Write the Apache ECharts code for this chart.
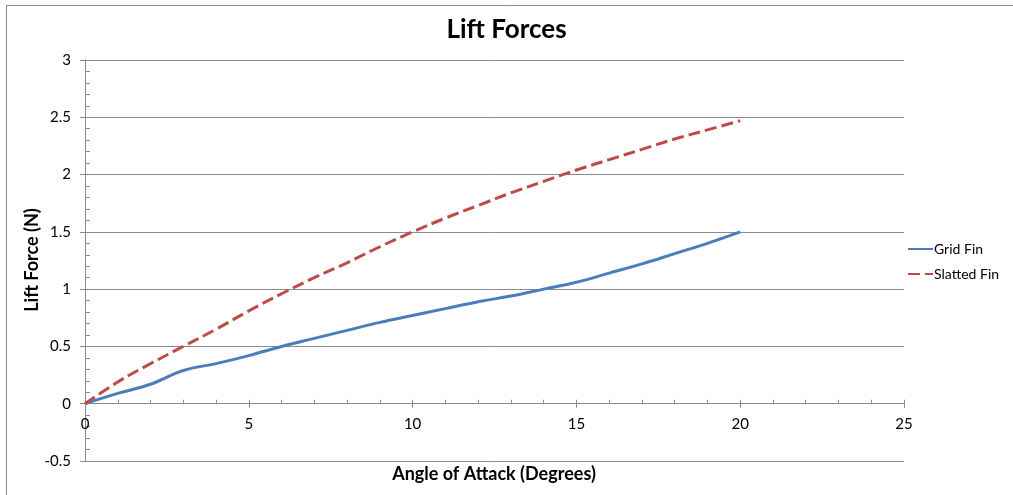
<!DOCTYPE html>
<html>
<head>
<meta charset="utf-8">
<script src="https://cdn.jsdelivr.net/npm/echarts@6/dist/echarts.min.js"></script>
<style>
html,body{margin:0;padding:0;background:#fff;}
#chart{width:1013px;height:495px;}
</style>
</head>
<body>
<div id="chart"></div>
<script>
const angles = [0,1,2,3,4,5,6,7,8,9,10,11,12,13,14,15,16,17,18,19,20];
const gridFin = [0,0.09,0.17,0.29,0.35,0.42,0.50,0.57,0.64,0.71,0.77,0.83,0.89,0.94,1.00,1.06,1.14,1.22,1.31,1.40,1.50];
const slattedFin = [0,0.19,0.35,0.50,0.65,0.81,0.96,1.10,1.23,1.37,1.50,1.62,1.73,1.84,1.94,2.04,2.13,2.22,2.31,2.39,2.47];
const seriesNames = ['Grid Fin','Slatted Fin'];
const titleText = 'Lift Forces';
const xName = 'Angle of Attack (Degrees)';
const yName = 'Lift Force (N)';
const yMin = -0.5, yMax = 3;

const FONT = 'Lato, "Open Sans", sans-serif';
const axisColor = '#8a8a8a';
const chart = echarts.init(document.getElementById('chart'), null, {renderer:'canvas'});

function pairs(xs, ys){ return xs.map((x,i)=>[x, ys[i]]); }
const gridBox = {left:85,right:109,top:60,bottom:34,containLabel:false};
const plotH = 495 - gridBox.top - gridBox.bottom;
// distance from bottom of plot up to the zero line
const zeroOffset = -plotH * (0 - yMin) / (yMax - yMin);

chart.setOption({
  animation:false,
  backgroundColor:'#fff',
  title:{text:titleText,left:'center',top:12,textStyle:{fontFamily:FONT,fontSize:26,fontWeight:'bold',color:'#000'}},
  grid:[Object.assign({},gridBox),Object.assign({},gridBox)],
  legend:{
    orient:'vertical',left:902,top:237,itemWidth:25,itemHeight:10,itemGap:11,
    itemStyle:{opacity:0},
    textStyle:{fontFamily:FONT,fontSize:14,color:'#000',padding:[0,0,0,-4]},
    data:seriesNames
  },
  xAxis:[
    {gridIndex:0,type:'value',min:0,max:25,interval:5,position:'bottom',offset:zeroOffset,
     axisLine:{onZero:false,lineStyle:{color:axisColor,width:1}},
     axisTick:{show:true,length:4,lineStyle:{color:axisColor}},
     minorTick:{show:false},
     axisLabel:{fontFamily:FONT,fontSize:15,color:'#000',margin:13},
     splitLine:{show:false}},
    {gridIndex:1,type:'value',min:0,max:25,interval:5,position:'top',
     axisLine:{onZero:true,lineStyle:{color:axisColor,width:1}},
     axisTick:{show:true,inside:false,length:4,lineStyle:{color:axisColor}},
     minorTick:{show:true,splitNumber:5,length:4,lineStyle:{color:axisColor}},
     axisLabel:{show:false},
     splitLine:{show:false}}
  ],
  yAxis:[
    {gridIndex:0,type:'value',min:yMin,max:yMax,interval:0.5,position:'left',
     axisLine:{show:true,onZero:false,lineStyle:{color:axisColor,width:1}},
     axisTick:{show:true,length:5,lineStyle:{color:axisColor}},
     axisLabel:{fontFamily:FONT,fontSize:15,color:'#000',margin:14},
     splitLine:{show:true,lineStyle:{color:axisColor,width:1}}},
    {gridIndex:1,type:'value',min:yMin,max:yMax,interval:0.5,position:'left',
     axisLine:{show:false,onZero:false},
     axisTick:{show:false,inside:true},
     minorTick:{show:true,splitNumber:5,length:5,lineStyle:{color:axisColor}},
     axisLabel:{show:false},
     splitLine:{show:false}}
  ],
  graphic:[
    {type:'line',shape:{x1:6,y1:5.5,x2:1013,y2:5.5},style:{stroke:'#8a8a8a',lineWidth:1},silent:true},
    {type:'line',shape:{x1:6.5,y1:5,x2:6.5,y2:495},style:{stroke:'#8a8a8a',lineWidth:1},silent:true},
    {type:'text',x:32,y:260,rotation:Math.PI/2,style:{text:yName,fontFamily:FONT,fontSize:18,fontWeight:'bold',fill:'#000',align:'center',verticalAlign:'middle'}},
    {type:'text',x:494,y:474,style:{text:xName,fontFamily:FONT,fontSize:18,fontWeight:'bold',fill:'#000',align:'center',verticalAlign:'middle'}}
  ],
  series:[
    {name:seriesNames[0],type:'line',xAxisIndex:0,yAxisIndex:0,smooth:0.4,symbol:'none',
     data:pairs(angles,gridFin),
     lineStyle:{color:'#4a7ebb',width:3},itemStyle:{color:'#4a7ebb'}},
    {name:seriesNames[1],type:'line',xAxisIndex:0,yAxisIndex:0,smooth:0.4,symbol:'none',
     data:pairs(angles,slattedFin),
     lineStyle:{color:'#be4b48',width:3,type:[12,5]},itemStyle:{color:'#be4b48'}}
  ]
});
</script>
</body>
</html>
